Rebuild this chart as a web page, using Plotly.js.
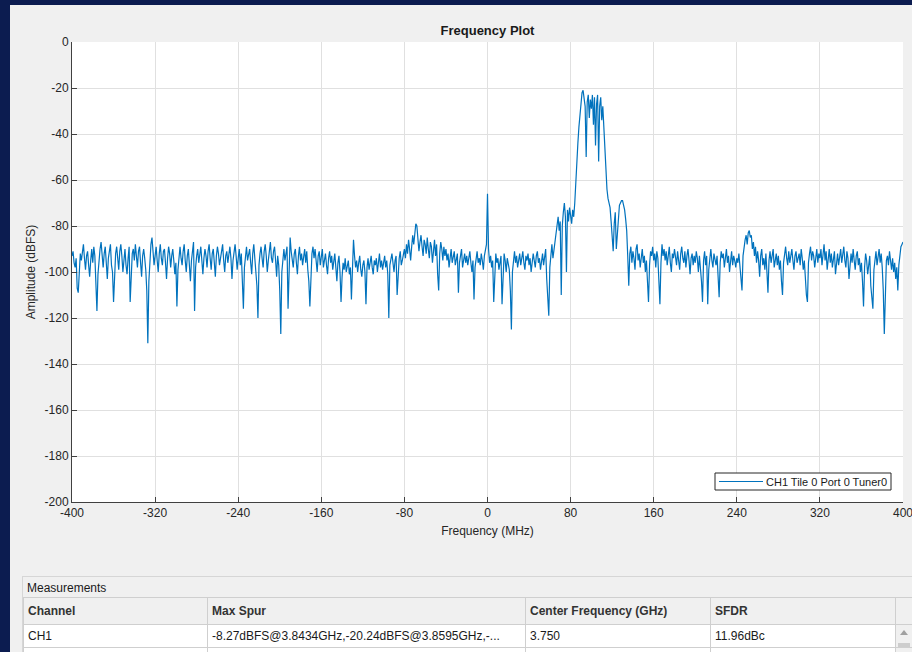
<!DOCTYPE html>
<html>
<head>
<meta charset="utf-8">
<script src="https://cdn.plot.ly/plotly-3.0.1.min.js"></script>
<style>
  html, body { margin:0; padding:0; width:912px; height:652px; overflow:hidden; background:#0c1c50; }
  #panel { position:absolute; left:10px; top:5px; width:1000px; height:700px; background:#f0f0f0; }
  #chart { position:absolute; left:0; top:0; width:940px; height:560px; }
  #meas { position:absolute; left:22px; top:576px; width:920px; height:100px; border:1px solid #d6d6d6; background:#f0f0f0;
          font-family:"Liberation Sans", Arial, sans-serif; font-size:12px; color:#1a1a1a; }
  #meas .cap { position:absolute; left:4px; top:4px; }
  #tbl { position:absolute; left:0px; top:20px; border-collapse:collapse; table-layout:fixed; }
  #tbl td, #tbl th { border:1px solid #cfcfcf; padding:0 4px; text-align:left; white-space:nowrap; overflow:hidden; text-overflow:ellipsis; }
  #tbl th { height:26px; font-weight:bold; background:#f0f0f0; color:#333; }
  #tbl td { height:22px; background:#ffffff; }
  #tbl td.sb { background:#f0f0f0; position:relative; padding:0; }
  .arrow { position:absolute; left:4px; top:5px; width:0; height:0; border-left:4px solid transparent; border-right:4px solid transparent; border-bottom:5px solid #a0a0a0; }
  .thumb { position:absolute; left:2px; top:18px; width:12px; height:10px; background:#cdcdcd; }
</style>
</head>
<body>
<div id="panel"></div>
<div id="chart"></div>
<div id="meas">
  <div class="cap" id="cap"></div>
  <table id="tbl"></table>
</div>
<script>
// ---- Data ----
var freqStartMHz = -400;   // first sample frequency
var freqStepMHz = 1;       // sample spacing
var amplitudeDbfs = [
  -93,-91,-96,-98,-94,-107,-109,-97,-92,-95,-90,-88,-94,-99,-93,-91,-97,-102,-95,-90,
  -96,-89,-93,-104,-117,-101,-94,-90,-87,-95,-98,-92,-89,-96,-103,-94,-91,-88,-97,-100,
  -113,-98,-92,-89,-94,-99,-91,-88,-93,-100,-95,-90,-97,-101,-94,-89,-113,-99,-92,-90,
  -95,-88,-92,-98,-91,-89,-96,-102,-93,-90,-94,-99,-108,-131,-104,-92,-88,-85,-90,-97,
  -93,-89,-95,-100,-92,-88,-94,-97,-91,-90,-96,-103,-94,-89,-92,-98,-93,-90,-95,-101,
  -96,-115,-99,-92,-89,-94,-97,-91,-88,-95,-100,-93,-90,-97,-104,-95,-91,-87,-117,-98,
  -93,-90,-96,-92,-89,-95,-101,-94,-90,-93,-98,-91,-88,-94,-99,-92,-90,-96,-102,-93,
  -89,-92,-97,-94,-90,-88,-95,-100,-93,-91,-96,-92,-89,-94,-103,-95,-91,-88,-93,-99,
  -94,-90,-97,-92,-104,-116,-98,-91,-89,-95,-93,-90,-96,-101,-92,-88,-94,-99,-106,-120,
  -97,-92,-89,-94,-98,-91,-88,-93,-100,-95,-90,-87,-94,-96,-91,-89,-95,-102,-93,-97,
  -108,-127,-100,-93,-90,-95,-92,-89,-116,-96,-85,-91,-94,-98,-92,-90,-96,-101,-93,-89,
  -95,-92,-97,-93,-90,-96,-91,-99,-104,-115,-98,-92,-89,-94,-90,-96,-100,-93,-91,-97,
  -94,-90,-98,-95,-92,-97,-101,-94,-91,-96,-93,-99,-95,-92,-98,-104,-96,-93,-100,-113,
  -102,-96,-99,-94,-100,-97,-95,-101,-98,-112,-96,-86,-93,-98,-95,-100,-96,-93,-99,-102,
  -97,-95,-100,-114,-98,-94,-99,-96,-93,-98,-101,-95,-97,-94,-100,-96,-92,-98,-95,-99,
  -96,-93,-98,-95,-101,-120,-97,-94,-92,-96,-100,-95,-93,-110,-98,-94,-91,-97,-95,-92,
  -90,-94,-88,-92,-86,-90,-95,-89,-84,-88,-82,-79,-80,-85,-91,-87,-84,-89,-93,-86,
  -88,-92,-85,-90,-94,-87,-89,-96,-91,-86,-93,-88,-101,-108,-92,-87,-90,-95,-89,-93,
  -90,-95,-92,-98,-94,-90,-96,-93,-91,-97,-95,-92,-109,-96,-93,-90,-98,-94,-92,-96,
  -93,-97,-94,-91,-96,-100,-95,-112,-98,-93,-91,-96,-94,-97,-92,-95,-99,-93,-90,-88,
  -66,-90,-96,-93,-98,-95,-113,-97,-92,-96,-94,-99,-95,-93,-114,-97,-92,-95,-100,-94,
  -96,-99,-108,-125,-100,-94,-91,-96,-93,-98,-95,-92,-97,-94,-91,-96,-99,-93,-95,-92,
  -97,-94,-100,-96,-92,-95,-98,-93,-91,-96,-94,-99,-95,-92,-97,-93,-90,-103,-110,-119,
  -98,-92,-88,-94,-90,-87,-84,-80,-76,-82,-78,-110,-80,-74,-70,-76,-100,-73,-78,-72,
  -75,-79,-73,-76,-70,-60,-52,-44,-37,-31,-26,-22,-21,-24,-28,-50,-26,-23,-33,-25,
  -29,-23,-36,-24,-45,-27,-23,-52,-28,-24,-34,-28,-38,-48,-58,-64,-68,-70,-72,-78,
  -84,-91,-79,-74,-90,-83,-75,-71,-70,-69,-69,-71,-73,-77,-82,-93,-106,-92,-89,-96,
  -91,-94,-99,-90,-88,-95,-92,-98,-94,-90,-96,-93,-100,-95,-104,-113,-97,-91,-93,-89,
  -95,-92,-98,-91,-94,-105,-114,-96,-88,-93,-90,-95,-91,-97,-93,-89,-96,-100,-92,-94,
  -90,-93,-97,-91,-95,-99,-92,-89,-94,-96,-91,-98,-93,-90,-95,-101,-94,-92,-97,-93,
  -96,-91,-94,-100,-93,-98,-104,-113,-95,-91,-97,-93,-114,-99,-92,-90,-95,-98,-92,-94,
  -97,-93,-103,-111,-96,-91,-94,-92,-98,-95,-90,-96,-93,-100,-94,-91,-97,-93,-95,-98,
  -94,-96,-92,-99,-101,-108,-93,-88,-86,-84,-88,-83,-82,-85,-84,-90,-87,-93,-89,-96,
  -91,-95,-102,-93,-90,-97,-94,-99,-92,-100,-109,-95,-91,-96,-93,-90,-98,-94,-92,-97,
  -93,-99,-95,-104,-110,-96,-92,-89,-94,-97,-91,-96,-93,-90,-95,-99,-93,-91,-96,-94,
  -92,-97,-90,-94,-99,-95,-104,-110,-113,-96,-92,-89,-95,-91,-93,-98,-94,-90,-96,-92,
  -94,-90,-97,-93,-88,-95,-91,-99,-93,-90,-96,-92,-98,-94,-91,-101,-95,-92,-97,-93,
  -90,-96,-92,-89,-95,-98,-91,-94,-103,-97,-92,-96,-90,-95,-99,-93,-91,-97,-94,-100,
  -96,-104,-115,-98,-92,-95,-101,-97,-93,-106,-110,-116,-99,-94,-91,-97,-93,-90,-96,-92,
  -98,-108,-127,-102,-95,-93,-97,-91,-96,-99,-94,-100,-96,-103,-98,-108,-97,-93,-89,-88,
  -87
];
var xTickVals = [-400,-320,-240,-160,-80,0,80,160,240,320,400];
var yTickVals = [-200,-180,-160,-140,-120,-100,-80,-60,-40,-20,0];
var seriesName = "CH1 Tile 0 Port 0 Tuner0";
var tableCaption = "Measurements";
var tableHeaders = ["Channel","Max Spur","Center Frequency (GHz)","SFDR"];
var tableRow = ["CH1","-8.27dBFS@3.8434GHz,-20.24dBFS@3.8595GHz,-...","3.750","11.96dBc"];
var tableColWidths = [184,318,185,185,17];

// ---- Chart ----
var fontFam = '"Liberation Sans", Arial, Helvetica, sans-serif';
var lineColor = '#0072BD';
var trace = {
  type: 'scatter', mode: 'lines',
  x0: freqStartMHz, dx: freqStepMHz, y: amplitudeDbfs,
  name: seriesName,
  line: { color: lineColor, width: 1.2 },
  showlegend: false
};
var axisCommon = {
  showline: true, linecolor: '#404040', linewidth: 1, mirror: false,
  ticks: 'inside', ticklen: 5, tickcolor: '#404040', tickwidth: 1,
  showgrid: true, gridcolor: '#e0e0e0', gridwidth: 1, zeroline: false,
  tickfont: { family: fontFam, size: 12, color: '#262626' }, automargin: false
};
// legend box drawn in plot-paper coordinates (plot area: 72..903 px wide, 42..502 px tall)
function px2x(px) { return (px - 72) / 831; }
function px2y(py) { return (502 - py) / 460; }
var layout = {
  width: 940, height: 560,
  margin: { l: 72, r: 37, t: 42, b: 58 },
  paper_bgcolor: 'rgba(0,0,0,0)', plot_bgcolor: '#ffffff',
  font: { family: fontFam, color: '#262626' },
  title: { text: '<b>Frequency Plot</b>', font: { family: fontFam, size: 13, color: '#1a1a1a' },
           x: 487.5/940, xanchor: 'center', y: 1 - 30/560, yanchor: 'middle', xref: 'container', yref: 'container' },
  xaxis: Object.assign({}, axisCommon, {
    range: [-400, 400], tickvals: xTickVals, ticktext: xTickVals.map(String),
    title: { text: 'Frequency (MHz)', font: { family: fontFam, size: 12, color: '#262626' }, standoff: 7 }
  }),
  yaxis: Object.assign({}, axisCommon, {
    range: [-200, 0], tickvals: yTickVals, ticktext: yTickVals.map(String),
    title: { text: 'Amplitude (dBFS)', font: { family: fontFam, size: 12, color: '#262626' }, standoff: 6 }
  }),
  showlegend: false,
  shapes: [
    { type: 'rect', xref: 'paper', yref: 'paper', x0: px2x(715), x1: px2x(891), y0: px2y(490), y1: px2y(473),
      fillcolor: '#ffffff', line: { color: '#262626', width: 1 }, layer: 'above' },
    { type: 'line', xref: 'paper', yref: 'paper', x0: px2x(719), x1: px2x(763), y0: px2y(481.5), y1: px2y(481.5),
      line: { color: lineColor, width: 1 }, layer: 'above' }
  ],
  annotations: [
    { xref: 'paper', yref: 'paper', x: px2x(764), y: px2y(481.5), xanchor: 'left', yanchor: 'middle',
      text: seriesName, showarrow: false, font: { family: fontFam, size: 11, color: '#1a1a1a' } }
  ]
};
Plotly.newPlot('chart', [trace], layout, { staticPlot: true, displayModeBar: false });

// ---- Measurements table ----
document.getElementById('cap').textContent = tableCaption;
var tbl = document.getElementById('tbl');
var cg = document.createElement('colgroup');
tableColWidths.forEach(function(w){ var c = document.createElement('col'); c.style.width = w + 'px'; cg.appendChild(c); });
tbl.appendChild(cg);
var hr = document.createElement('tr');
tableHeaders.forEach(function(h){ var th = document.createElement('th'); th.textContent = h; hr.appendChild(th); });
var thx = document.createElement('th'); hr.appendChild(thx);
tbl.appendChild(hr);
var dr = document.createElement('tr');
tableRow.forEach(function(v){ var td = document.createElement('td'); td.textContent = v; dr.appendChild(td); });
var sb = document.createElement('td'); sb.className = 'sb';
sb.innerHTML = '<div class="arrow"></div><div class="thumb"></div>';
dr.appendChild(sb);
tbl.appendChild(dr);
var dr2 = document.createElement('tr');
for (var k = 0; k < 5; k++) { var td2 = document.createElement('td'); td2.innerHTML = '&nbsp;'; if (k===4) td2.className='sb'; dr2.appendChild(td2); }
tbl.appendChild(dr2);
</script>
</body>
</html>
